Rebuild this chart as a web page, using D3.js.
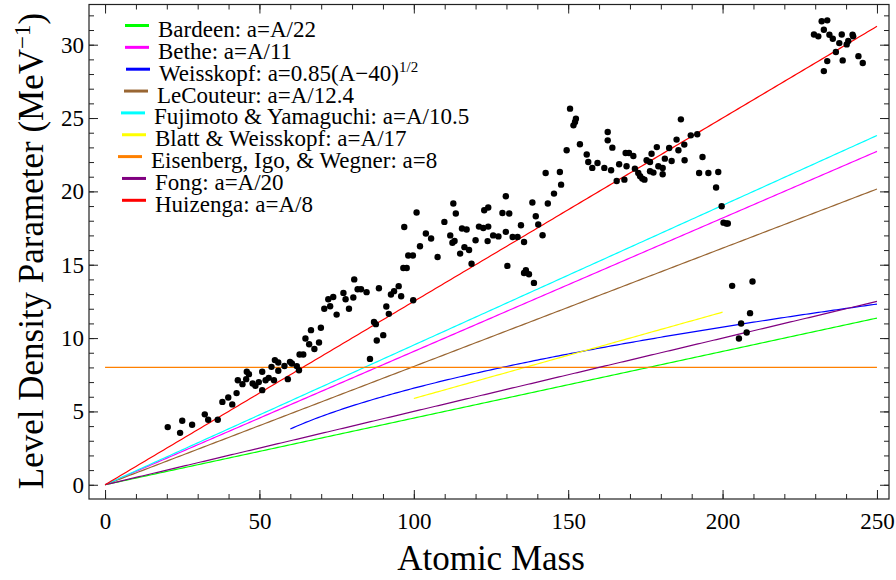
<!DOCTYPE html>
<html>
<head>
<meta charset="utf-8">
<script src="https://cdn.jsdelivr.net/npm/d3@7"></script>
<style>
  body { margin: 0; background: #fff; }
  svg { display: block; }
  text { font-family: "Liberation Serif", "Times New Roman", serif; fill: #000; }
</style>
</head>
<body>
<svg id="chart" width="896" height="580"></svg>
<script>
// Measured level density parameters: atomic mass A and a (MeV^-1)
const massNumbers = [
  20.3, 24.3, 25.0, 28.2, 32.3, 33.4, 36.5, 38.0, 39.9, 41.2, 42.6, 43.0, 44.5, 45.7, 45.9,
  46.6, 47.8, 48.7, 49.8, 50.9, 50.9, 52.0, 53.0, 53.9, 54.7, 55.0, 56.1, 56.1, 58.1, 59.2,
  59.9, 60.5, 62.1, 62.8, 63.0, 64.2, 64.9, 66.1, 66.7, 67.8, 69.3, 69.9, 71.0, 72.3, 72.9,
  73.9, 75.0, 77.2, 77.9, 79.0,
  80.4, 80.7, 81.8, 82.9, 84.7, 87.1, 87.7, 88.7, 91.1, 91.9, 92.6, 93.6, 95.1, 95.9, 96.6,
  97.7, 98.2, 99.7, 96.9, 99.8, 100.9, 102.0, 103.9, 105.6, 107.7, 109.9, 111.8,
  90.1, 88.0, 85.8,
  112.8, 113.6, 112.5, 113.2, 115.0, 115.6, 117.1, 116.4, 117.9, 118.7, 120.0, 121.1, 122.5,
  124.1, 122.8, 124.1, 123.9, 125.7, 127.4, 128.7, 129.8, 129.8, 130.3, 130.9, 132.0, 133.6,
  134.7, 135.7, 135.7, 136.3, 137.3, 138.4, 138.9, 139.5, 140.3, 141.7, 142.7, 143.4, 145.4,
  147.3, 147.7, 149.5, 150.6, 151.7, 152.2, 152.5, 153.8, 156.0, 156.5, 157.8, 159.5, 161.7,
  162.8, 162.8, 163.9, 164.3, 165.7, 166.5, 168.2, 168.6, 169.7, 168.9, 171.1, 171.6, 172.7,
  173.3, 174.0, 174.7, 175.4,
  176.5, 177.0, 176.5, 177.6, 178.7, 179.2, 180.6, 180.6, 181.3, 182.7, 183.5, 185.1, 185.7,
  186.5, 187.6, 187.7, 189.7, 191.8, 193.5, 192.4, 195.4, 198.6, 197.9, 199.7,
  200.3, 201.2, 201.7, 203.1, 209.7, 208.9, 206.0, 207.8, 205.3,
  232.1, 233.9, 232.8, 229.6, 231.0, 234.6, 235.7, 238.6, 237.8, 240.2, 240.7, 242.1, 242.3,
  236.7, 233.9, 238.9, 244.0, 245.4, 232.8
];
const levelDensity = [
  3.93, 3.54, 4.36, 4.09, 4.80, 4.43, 4.43, 5.65, 5.95, 5.48, 6.25, 7.13, 6.86, 7.20, 7.70,
  7.54, 6.90, 6.75, 7.00, 7.70, 6.45, 7.13, 7.29, 8.04, 7.13, 8.50, 7.77, 8.34, 8.10, 7.20,
  8.38, 8.27, 8.09, 7.81, 8.88, 8.88, 9.97, 9.58, 10.54, 9.26, 9.70, 10.70, 12.00, 12.65, 12.17,
  12.80, 11.60, 13.08, 12.65, 12.00,
  12.77, 14.00, 13.33, 13.33, 13.13, 11.10, 10.95, 13.40, 12.15, 11.65, 12.97, 13.20, 13.54, 12.85, 14.78,
  14.78, 15.63, 15.63, 17.57, 12.58, 18.56, 16.26, 17.13, 16.79, 15.53, 17.92, 17.00,
  10.20, 9.84, 8.58,
  19.17, 18.49, 16.50, 16.62, 15.76, 17.47, 17.40, 16.20, 16.00, 15.07, 16.67, 17.60, 17.50,
  17.60, 18.71, 18.90, 16.61, 17.00, 16.93, 18.53, 19.67, 17.24, 14.92, 18.49, 16.89, 16.89,
  17.69, 16.55, 14.44, 14.63, 14.35, 19.24, 13.76, 18.30, 17.74, 17.01, 21.25, 19.17, 19.85,
  21.32, 20.46, 22.80, 25.64, 24.50, 24.73, 24.96, 23.21, 22.51, 22.00, 21.60, 21.93, 21.60,
  24.05, 23.48, 21.44, 22.98, 20.71, 21.85, 20.80, 22.62, 22.62, 21.71, 22.41, 21.55, 21.25,
  21.03, 20.87, 20.80, 22.12,
  22.00, 22.57, 21.37, 21.28, 23.02, 21.71, 21.60, 21.17, 22.23, 22.96, 22.07, 23.53, 22.80,
  24.91, 23.19, 22.12, 23.82, 23.89, 22.34, 21.25, 21.25, 21.32, 20.26, 18.99,
  17.87, 17.81, 17.81, 13.56, 13.86, 11.70, 10.99, 10.38, 9.97,
  31.60, 31.66, 31.02, 30.70, 30.57, 30.68, 30.41, 30.70, 30.11, 30.02, 30.25, 30.68, 30.57,
  29.50, 28.88, 28.93, 29.22, 28.75, 28.20
];

// Model systematics, in legend order
const modelNames = [
  "Bardeen: a=A/22",
  "Bethe: a=A/11",
  "Weisskopf: a=0.85(A\u221240)",
  "LeCouteur: a=A/12.4",
  "Fujimoto & Yamaguchi: a=A/10.5",
  "Blatt & Weisskopf: a=A/17",
  "Eisenberg, Igo, & Wegner: a=8",
  "Fong: a=A/20",
  "Huizenga: a=A/8"
];
const modelSuperscripts = ["", "", "1/2", "", "", "", "", "", ""];
const modelColors = ["#00ff00", "#ff00ff", "#0000ff", "#996633", "#00ffff", "#ffff00", "#ff8000", "#800080", "#ff0000"];
const modelStartA = [0, 0, 60, 0, 0, 100, 0, 0, 0];
const modelEndA = [250, 250, 250, 250, 250, 200, 250, 250, 250];
// a(A) for each model, as stated in its legend entry
const modelFormulas = [
  A => A / 22,
  A => A / 11,
  A => 0.85 * Math.sqrt(A - 40),
  A => A / 12.4,
  A => A / 10.5,
  A => A / 17,
  A => 8,
  A => A / 20,
  A => A / 8
];

const xTickValues = [0, 50, 100, 150, 200, 250];
const yTickValues = [0, 5, 10, 15, 20, 25, 30];
const xMinorTickValues = d3.range(0, 251, 10);
const yMinorTickValues = d3.range(0, 33, 1);

// Layout
const frame = { left: 89, right: 889, top: 4.5, bottom: 499 };
const legendShift = [0, 0, 1, -1, -4, -3, -7, -3, -3];

const svg = d3.select("#chart");

const x = d3.scaleLinear().domain([-5.2, 253.9]).range([frame.left, frame.right]);
const y = d3.scaleLinear().domain([-0.97, 32.74]).range([frame.bottom, frame.top]);

const plot = svg.append("g");
plot.append("clipPath").attr("id", "plot-clip")
  .append("rect")
  .attr("x", frame.left).attr("y", frame.top)
  .attr("width", frame.right - frame.left).attr("height", frame.bottom - frame.top);

// Model curves
const line = d3.line().x(d => x(d[0])).y(d => y(d[1]));
const curves = plot.append("g").attr("clip-path", "url(#plot-clip)");
modelFormulas.forEach((f, i) => {
  const pts = d3.range(modelStartA[i], modelEndA[i] + 0.001, 1).map(A => [A, f(A)]);
  curves.append("path")
    .attr("d", line(pts))
    .attr("fill", "none")
    .attr("stroke", modelColors[i])
    .attr("stroke-width", 1.2);
});

// Data points
plot.append("g").selectAll("circle")
  .data(massNumbers.map((A, i) => [A, levelDensity[i]]))
  .join("circle")
  .attr("cx", d => x(d[0]))
  .attr("cy", d => y(d[1]))
  .attr("r", 3.2)
  .attr("fill", "#000");

// Frame with inward ticks on all four sides
const frameColor = "#222";
function styleAxis(g) {
  g.select(".domain").remove();
  g.selectAll(".tick line").attr("stroke", frameColor).attr("stroke-width", 1);
  g.selectAll(".tick text").style("font-size", "23px").attr("fill", "#000");
}

svg.append("g").attr("transform", `translate(0,${frame.bottom})`)
  .call(d3.axisBottom(x).tickValues(xMinorTickValues).tickSize(-5).tickFormat(""))
  .call(styleAxis);
svg.append("g").attr("transform", `translate(0,${frame.bottom})`)
  .call(d3.axisBottom(x).tickValues(xTickValues).tickSize(-9).tickPadding(14).tickFormat(d3.format("d")))
  .call(styleAxis);
svg.append("g").attr("transform", `translate(0,${frame.top})`)
  .call(d3.axisTop(x).tickValues(xMinorTickValues).tickSize(-5).tickFormat(""))
  .call(styleAxis);
svg.append("g").attr("transform", `translate(0,${frame.top})`)
  .call(d3.axisTop(x).tickValues(xTickValues).tickSize(-9).tickFormat(""))
  .call(styleAxis);

svg.append("g").attr("transform", `translate(${frame.left},0)`)
  .call(d3.axisLeft(y).tickValues(yMinorTickValues).tickSize(-5).tickFormat(""))
  .call(styleAxis);
svg.append("g").attr("transform", `translate(${frame.left},0)`)
  .call(d3.axisLeft(y).tickValues(yTickValues).tickSize(-9).tickPadding(5).tickFormat(d3.format("d")))
  .call(styleAxis);
svg.append("g").attr("transform", `translate(${frame.right},0)`)
  .call(d3.axisRight(y).tickValues(yMinorTickValues).tickSize(-5).tickFormat(""))
  .call(styleAxis);
svg.append("g").attr("transform", `translate(${frame.right},0)`)
  .call(d3.axisRight(y).tickValues(yTickValues).tickSize(-9).tickFormat(""))
  .call(styleAxis);

svg.append("rect")
  .attr("x", frame.left).attr("y", frame.top)
  .attr("width", frame.right - frame.left).attr("height", frame.bottom - frame.top)
  .attr("fill", "none").attr("stroke", frameColor).attr("stroke-width", 1.2);

// Legend
const legend = svg.append("g");
modelNames.forEach((name, i) => {
  const rowY = 25.5 + i * 21.85;
  const dx = legendShift[i];
  legend.append("line")
    .attr("x1", 125 + dx).attr("x2", 149 + dx)
    .attr("y1", rowY).attr("y2", rowY)
    .attr("stroke", modelColors[i]).attr("stroke-width", 3);
  const t = legend.append("text")
    .attr("x", 158 + dx).attr("y", rowY + 11.5)
    .style("font-size", "23px");
  t.append("tspan").text(name);
  if (modelSuperscripts[i]) {
    t.append("tspan").attr("dy", -9).style("font-size", "15px").text(modelSuperscripts[i]);
  }
});

// Axis titles
svg.append("text")
  .attr("x", 491).attr("y", 570)
  .attr("text-anchor", "middle")
  .style("font-size", "35px")
  .text("Atomic Mass");

const yTitle = svg.append("text")
  .attr("transform", "translate(43,251) rotate(-90)")
  .attr("text-anchor", "middle")
  .style("font-size", "35px");
yTitle.append("tspan").text("Level Density Parameter (MeV");
yTitle.append("tspan").attr("dy", -13).style("font-size", "23px").text("\u22121");
yTitle.append("tspan").attr("dy", 13).text(")");
</script>
</body>
</html>
